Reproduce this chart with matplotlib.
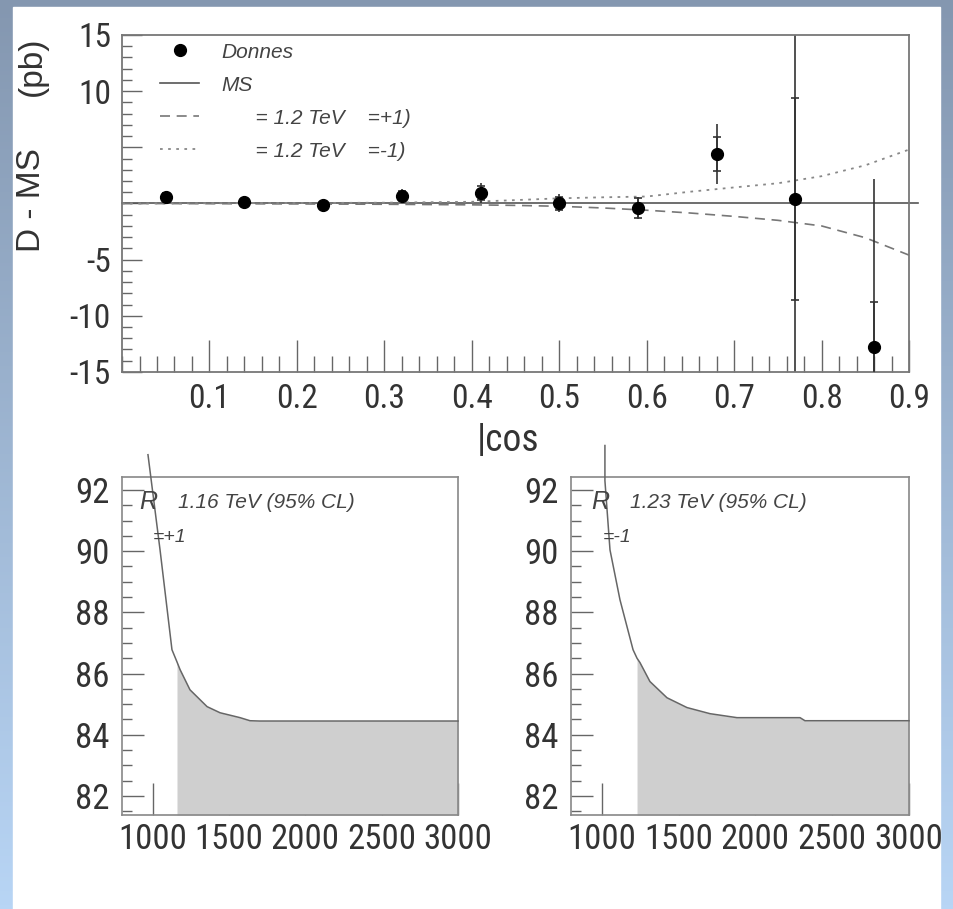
import numpy as np
import matplotlib
matplotlib.use("Agg")
import matplotlib.pyplot as plt
from matplotlib.lines import Line2D
from matplotlib.patches import Rectangle
from matplotlib.ticker import MultipleLocator, FuncFormatter

NARROW = ['Roboto Condensed', 'DejaVu Sans']
REG = ['Liberation Sans', 'DejaVu Sans']
plt.rcParams['font.family'] = NARROW

# ---- data: top panel (D - MS vs |cos|) ----
cos_vals = [0.05, 0.14, 0.23, 0.32, 0.41, 0.50, 0.59, 0.68, 0.77, 0.86]
diff = [0.6, 0.1, -0.15, 0.7, 0.95, 0.0, -0.4, 4.4, 0.4, -12.8]
err_stat = [0.3, 0.3, 0.3, 0.4, 0.6, 0.6, 0.9, 1.5, 9.0, 4.0]
err_tot = [0.4, 0.4, 0.4, 0.6, 0.9, 0.8, 1.0, 2.7, 17.0, 15.0]

ms_x = [0.0, 0.91]
ms_y = [0.0, 0.0]

th_x = [0.0, 0.1, 0.2, 0.3, 0.4, 0.45, 0.5, 0.55, 0.6, 0.65, 0.7, 0.75, 0.8, 0.85, 0.9]
eta_plus = [0.0, -0.02, -0.04, -0.07, -0.12, -0.17, -0.25, -0.4, -0.6, -0.85, -1.15, -1.5, -2.0, -3.05, -4.6]
eta_minus = [0.0, 0.02, 0.04, 0.07, 0.15, 0.3, 0.46, 0.55, 0.62, 1.05, 1.43, 1.8, 2.43, 3.4, 4.8]

legend_labels = ["Donnes", "MS", "      = 1.2 TeV    =+1)", "      = 1.2 TeV    =-1)"]
top_xticks = [0.1, 0.2, 0.3, 0.4, 0.5, 0.6, 0.7, 0.8, 0.9]

# ---- data: lower panels (R vs Lambda) ----
lam_left = [970, 1049, 1127, 1160, 1180, 1245, 1357, 1442, 1573, 1638, 1700, 3000]
r_left = [93.15, 90.04, 86.78, 86.38, 86.13, 85.47, 84.92, 84.72, 84.56, 84.46, 84.45, 84.45]
lim_left = 1160

lam_right = [1021, 1021, 1054, 1119, 1204, 1230, 1249, 1314, 1425, 1555, 1705, 1881, 2291, 2323, 3000]
r_right = [93.45, 92.3, 90.04, 88.41, 86.78, 86.5, 86.36, 85.74, 85.21, 84.89, 84.69, 84.56, 84.56, 84.46, 84.46]
lim_right = 1230

low_xticks = [1000, 1500, 2000, 2500, 3000]

TXT = '#333333'

fig = plt.figure(figsize=(9.54, 9.09), dpi=100)

# background gradient + white panel
bg = fig.add_axes([0, 0, 1, 1], zorder=-10)
top_col = np.array([0x84, 0x97, 0xb0]) / 255
bot_col = np.array([0xb8, 0xd5, 0xf5]) / 255
g = np.linspace(0, 1, 256)[:, None, None]
bg.imshow(top_col + g * (bot_col - top_col), aspect='auto', extent=[0, 1, 0, 1], origin='upper')
bg.add_patch(Rectangle((0.0136, 0), 0.9717, 0.9923, color='white'))
bg.set_xlim(0, 1)
bg.set_ylim(0, 1)
bg.axis('off')

# ---- top panel ----
ax = fig.add_axes([0.1279, 0.5908, 0.825, 0.3707])
ax.set_xlim(0, 0.9)
ax.set_ylim(-15, 15)

ax.plot(ms_x, ms_y, color='#555555', lw=1.2, clip_on=False)
ax.plot(th_x, eta_plus, color='#777777', lw=1.2, ls=(0, (6, 4)))
ax.plot(th_x, eta_minus, color='#888888', lw=1.3, ls=(0, (1.5, 3)))
ax.errorbar(cos_vals, diff, yerr=err_tot, fmt='none', ecolor='#333333', elinewidth=1.2, capsize=0)
ax.errorbar(cos_vals, diff, yerr=err_stat, fmt='o', color='black', ms=8.5,
            ecolor='#333333', elinewidth=1.2, capsize=3, capthick=1.2, zorder=4)

ax.set_xticks(top_xticks)
ax.xaxis.set_minor_locator(MultipleLocator(0.02))
ax.yaxis.set_major_locator(MultipleLocator(5))
ax.yaxis.set_minor_locator(MultipleLocator(1))
ax.yaxis.set_major_formatter(FuncFormatter(lambda v, p: '' if v in (0, 5) else '%d' % v))
ax.tick_params(which='both', direction='in', top=False, right=False, colors='#666666', labelcolor=TXT)
ax.tick_params(axis='x', which='major', length=23, width=1, labelsize=24, pad=8)
ax.tick_params(axis='x', which='minor', length=11.5, width=1)
ax.tick_params(axis='y', which='major', length=14.5, width=1, labelsize=24, pad=8)
ax.tick_params(axis='y', which='minor', length=7, width=1)
for s in ax.spines.values():
    s.set_color('#777777')
    s.set_linewidth(1.3)

handles = [Line2D([], [], marker='o', ls='none', color='black', ms=8.5),
           Line2D([], [], color='#555555', lw=1.2),
           Line2D([], [], color='#777777', lw=1.2, ls=(0, (6, 4))),
           Line2D([], [], color='#888888', lw=1.3, ls=(0, (1.5, 3)))]
leg = ax.legend(handles, legend_labels, loc='upper left', bbox_to_anchor=(0.048, 0.977),
                frameon=False, prop={'family': REG, 'style': 'italic', 'size': 15},
                handlelength=1.9, handletextpad=1.05, labelspacing=0.67,
                borderpad=0, borderaxespad=0)
for t in leg.get_texts():
    t.set_color('#444444')

fig.text(477 / 954, 1 - 440 / 909, '|cos', ha='left', va='center', fontsize=27, color=TXT)
fig.text(32 / 954, 1 - 66 / 909, '(pb)', rotation=90, ha='center', va='center',
         fontsize=24, family=REG, color=TXT)
fig.text(32 / 954, 1 - 200 / 909, 'D - MS', rotation=90, ha='center', va='center',
         fontsize=24, family=REG, color=TXT)


# ---- lower panels ----
def lower(rect, lam, r, limit, lim_txt, eta_txt, tx):
    a = fig.add_axes(rect)
    y0, y1 = 81.38, 92.42
    a.set_xlim(800, 3000)
    a.set_ylim(y0, y1)
    a.set_axisbelow(True)
    lam = np.array(lam)
    r = np.array(r)
    m = lam >= limit
    a.fill_between(lam[m], r[m], y0, color='#cfcfcf', lw=0, zorder=1)
    a.plot(lam, r, color='#666666', lw=1.1, clip_on=False, zorder=3)
    a.set_xticks(low_xticks)
    a.yaxis.set_major_locator(MultipleLocator(2))
    a.yaxis.set_minor_locator(MultipleLocator(0.5))
    a.tick_params(which='both', direction='in', top=False, right=False,
                  colors='#666666', labelcolor=TXT)
    a.tick_params(axis='x', which='major', length=23, width=1, labelsize=25, pad=6)
    a.tick_params(axis='y', which='major', length=16, width=1, labelsize=25, pad=9)
    a.tick_params(axis='y', which='minor', length=7, width=1)
    for s in a.spines.values():
        s.set_color('#888888')
        s.set_linewidth(1.2)
    a.text(tx[0], 0.926, 'R', transform=a.transAxes, ha='left', va='center',
           fontsize=18, family=REG, style='italic', color='#444444')
    a.text(tx[1], 0.926, lim_txt, transform=a.transAxes, ha='left', va='center',
           fontsize=15, family=REG, style='italic', color='#444444')
    a.text(tx[2], 0.82, eta_txt, transform=a.transAxes, ha='left', va='center',
           fontsize=14, family=REG, style='italic', color='#444444')
    return a


lower([0.1279, 0.1034, 0.3522, 0.3718], lam_left, r_left, lim_left,
      '1.16 TeV (95% CL)', '=+1', (0.052, 0.167, 0.092))
lower([0.5985, 0.1034, 0.3543, 0.3718], lam_right, r_right, lim_right,
      '1.23 TeV (95% CL)', '=-1', (0.060, 0.175, 0.095))

fig.savefig('out.png', dpi=100)
